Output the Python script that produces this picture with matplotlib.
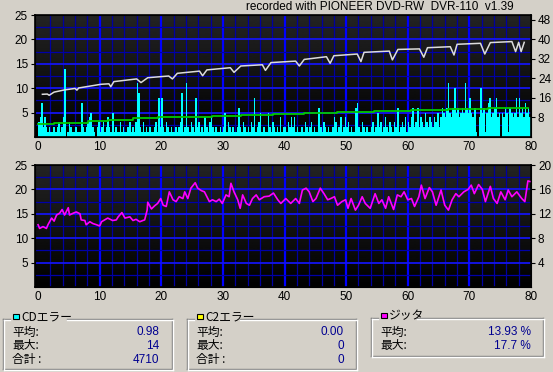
import numpy as np
import matplotlib
matplotlib.use('Agg')
import matplotlib.pyplot as plt
from matplotlib.patches import Rectangle

# ---- data ----
# CD errors per 0.25 min step (0..80 min)
cd_err = [
    3, 4, 7, 2, 4, 2, 1, 2, 1, 1, 2, 1, 2, 3, 1, 2, 4, 14, 0, 1, 3, 2, 1, 1, 2, 1, 1, 1, 7, 2, 1, 2, 3, 4, 5, 2, 1, 0, 2, 3,
    1, 2, 3, 1, 2, 4, 2, 1, 5, 1, 2, 1, 1, 3, 1, 2, 1, 1, 2, 3, 1, 2, 1, 3, 11, 9, 2, 1, 3, 1, 2, 1, 2, 1, 1, 2, 3, 1, 8, 2,
    8, 2, 1, 3, 2, 1, 2, 1, 1, 2, 1, 2, 3, 9, 1, 2, 11, 2, 1, 3, 2, 1, 8, 2, 3, 1, 2, 1, 4, 2, 1, 3, 4, 2, 1, 2, 1, 1, 2, 1,
    2, 5, 1, 3, 2, 1, 2, 1, 1, 2, 6, 2, 1, 3, 2, 1, 2, 1, 3, 2, 8, 1, 2, 3, 5, 1, 2, 1, 1, 5, 2, 1, 3, 2, 1, 2, 1, 4, 1, 2,
    2, 1, 3, 2, 4, 2, 4, 1, 2, 1, 1, 2, 1, 3, 2, 1, 2, 3, 1, 2, 1, 1, 6, 2, 1, 3, 2, 1, 2, 1, 1, 2, 4, 3, 1, 2, 4, 1, 2, 4,
    2, 3, 1, 2, 1, 1, 6, 7, 2, 1, 3, 2, 1, 2, 1, 1, 2, 3, 1, 2, 5, 2, 3, 1, 2, 4, 2, 1, 3, 2, 1, 3, 2, 6, 1, 2, 3, 2, 4, 1,
    3, 2, 4, 6, 2, 3, 6, 2, 4, 3, 2, 5, 3, 2, 4, 3, 2, 4, 3, 5, 2, 4, 6, 5, 4, 6, 11, 5, 4, 6, 10, 5, 6, 4, 5, 6, 5, 11, 6, 5,
    8, 5, 4, 6, 1, 0, 4, 10, 5, 6, 1, 5, 7, 8, 4, 5, 6, 8, 4, 5, 0, 5, 4, 6, 5, 1, 6, 5, 4, 5, 8, 4, 8, 5, 6, 4, 7, 5, 6, 4,
]
cd_step = 0.25

# read speed (right axis, X)
speed_x = [0.7, 1.5, 1.8, 2.6, 4.3, 6.0, 6.3, 6.6, 10.2, 11.5, 11.8, 12.3, 16.0, 16.7, 17.8,
           21.2, 21.8, 22.6, 26.2, 26.7, 27.4, 31.2, 31.8, 32.9, 36.4, 36.9, 37.8, 41.8, 42.4,
           43.2, 46.8, 47.4, 48.0, 51.8, 52.4, 52.9, 57.0, 57.5, 58.4, 61.9, 62.6, 63.2, 66.9,
           67.5, 68.0, 71.8, 72.5, 73.4, 76.9, 77.5, 78.0, 78.4, 78.9]
speed_v = [17.5, 17.6, 17.1, 18.4, 19.3, 19.9, 19.2, 20.1, 21.6, 21.8, 20.6, 22.7, 23.8, 22.3, 24.3,
           25.0, 23.8, 26.1, 27.0, 25.1, 27.5, 28.4, 26.5, 29.1, 29.6, 27.3, 30.5, 31.1, 29.1,
           31.8, 32.9, 30.2, 33.3, 34.0, 30.9, 34.7, 35.2, 31.6, 35.9, 36.1, 32.7, 36.6, 37.0,
           33.6, 38.0, 38.4, 34.0, 38.7, 39.1, 35.0, 38.8, 35.0, 38.8]

# green step line (left axis)
green_x = [0.0, 2.6, 4.9, 8.1, 11.3, 15.4, 19.4, 28.3, 32.9, 38.1, 43.2, 48.5, 54.6, 60.6, 66.5, 73.0, 79.5]
green_v = [2.7, 2.8, 2.9, 3.3, 3.4, 3.8, 4.0, 4.3, 4.5, 4.7, 4.85, 5.05, 5.25, 5.5, 5.7, 5.9, 6.0]

# jitter % (right axis of lower chart)
jit_x = [0.0, 0.25, 0.8, 1.35, 1.6, 2.2, 2.6, 3.0, 3.5, 3.9, 4.3, 4.9, 5.1, 5.7, 6.2, 6.8, 7.0, 7.6,
         7.8, 8.4, 8.9, 9.5, 10.0, 10.3, 10.8, 11.3, 12.1, 12.7, 13.0, 13.6, 14.1, 14.9, 15.4, 15.9,
         16.5, 17.0, 17.3, 17.7, 17.8, 18.4, 18.9, 19.4, 19.9, 20.3, 20.8, 21.3, 21.9, 22.4, 22.9,
         23.5, 23.8, 24.3, 24.8, 25.5, 25.9, 26.5, 27.0, 27.8, 28.3, 28.9, 29.4, 29.9, 30.5, 31.0,
         31.3, 31.8, 32.4, 32.8, 33.2, 33.8, 34.3, 34.8, 35.4, 35.9, 36.7, 37.5, 38.2, 38.9, 39.4,
         40.2, 41.0, 41.8, 42.4, 42.9, 43.5, 44.0, 44.6, 45.1, 45.8, 46.4, 47.0, 47.5, 48.1, 48.6,
         49.3, 49.9, 50.3, 50.8, 51.5, 52.0, 52.6, 53.1, 53.9, 54.7, 55.3, 55.8, 56.4, 56.9, 57.7,
         58.3, 58.9, 59.4, 60.0, 60.6, 61.1, 61.8, 62.2, 62.8, 63.5, 64.0, 64.6, 65.4, 66.0, 66.6,
         67.2, 67.8, 68.3, 69.1, 69.8, 70.3, 70.8, 71.5, 72.1, 72.6, 73.4, 73.9, 74.5, 75.1, 75.8,
         76.3, 76.9, 77.7, 78.5, 79.0, 79.5, 79.8]
jit_v = [10.2, 9.6, 9.9, 9.6, 10.2, 11.3, 10.8, 11.8, 12.1, 12.7, 11.8, 13.0, 11.8, 12.1, 12.3, 12.0,
         11.0, 10.9, 10.2, 10.7, 10.4, 10.2, 10.0, 10.7, 11.0, 11.3, 10.9, 11.0, 11.5, 12.2, 11.3,
         11.5, 10.9, 11.1, 10.7, 10.9, 11.0, 12.6, 13.9, 12.8, 13.3, 13.7, 14.5, 13.4, 13.2, 15.6,
         14.3, 14.0, 14.8, 14.5, 15.6, 14.5, 16.2, 17.1, 16.2, 15.8, 15.6, 14.0, 14.3, 14.0, 14.4,
         13.7, 15.1, 14.8, 17.0, 15.6, 14.3, 12.9, 15.1, 13.7, 13.4, 14.5, 15.1, 14.3, 14.8, 14.9,
         15.4, 14.3, 13.7, 14.5, 13.7, 14.5, 13.7, 15.9, 16.2, 15.6, 14.0, 14.5, 16.2, 15.3, 14.3,
         14.5, 14.8, 13.4, 14.0, 14.3, 12.9, 14.5, 12.6, 13.4, 14.8, 13.7, 12.9, 15.3, 13.7, 14.3,
         12.9, 14.8, 12.7, 15.1, 14.8, 15.6, 14.3, 14.5, 13.2, 14.8, 16.7, 14.5, 16.3, 15.6, 13.4,
         15.9, 13.4, 12.6, 14.3, 15.3, 14.8, 15.6, 16.0, 16.7, 15.3, 16.8, 16.0, 14.0, 16.5, 14.5,
         13.7, 15.6, 14.3, 15.9, 14.8, 15.6, 14.5, 14.0, 17.4, 17.3]

x_ticks = [0, 10, 20, 30, 40, 50, 60, 70, 80]
left_ticks = [5, 10, 15, 20, 25]
speed_ticks = [8, 16, 24, 32, 40, 48]
jitter_ticks = [4, 8, 12, 16, 20]

title = 'recorded with PIONEER DVD-RW  DVR-110  v1.39'
cd_rows = [('平均:', '0.98'), ('最大:', '14'), ('合計 :', '4710')]
c2_rows = [('平均:', '0.00'), ('最大:', '0'), ('合計 :', '0')]
jit_rows = [('平均:', '13.93 %'), ('最大:', '17.7 %')]

# ---- drawing ----
BG = '#d4d0c8'
W, H = 553, 372
LAT = ['Liberation Sans', 'DejaVu Sans']
CJK = ['Noto Sans CJK JP', 'DejaVu Sans']
plt.rcParams['font.family'] = LAT

fig = plt.figure(figsize=(W / 100, H / 100), dpi=100, facecolor=BG)


def px_axes(l, t, r, b):
    return fig.add_axes([l / W, 1 - b / H, (r - l) / W, (b - t) / H])


def style_chart(ax):
    grad = np.linspace(0.14, 0.0, 256).reshape(-1, 1)
    ax.imshow(grad, cmap='gray', vmin=0, vmax=1, aspect='auto',
              extent=[-0.5, 80, 0, 25], zorder=0)
    ax.set_xlim(-0.5, 80)
    ax.set_ylim(0, 25)
    for gx in range(2, 80, 2):
        major = gx % 10 == 0
        ax.axvline(gx, color='#0000ff' if major else '#0000a0',
                   lw=1.6 if major else 0.9, zorder=1)
    for gy in np.arange(2.5, 25, 2.5):
        major = gy % 5 == 0
        ax.axhline(gy, color='#1414f0' if major else '#0000a8',
                   lw=1.3 if major else 0.9, zorder=1)
    ax.set_xticks(x_ticks)
    ax.set_yticks(left_ticks)
    ax.tick_params(axis='x', length=0, pad=3, labelsize=8.5)
    ax.tick_params(axis='y', length=3, width=0.8, pad=2, labelsize=8.5)
    for s in ax.spines.values():
        s.set_color('black')
        s.set_linewidth(1.2)


# top chart: CD errors + speed
ax1 = px_axes(35, 15, 531, 137)
style_chart(ax1)
edges = np.arange(len(cd_err) + 1) * cd_step
ax1.stairs(cd_err, edges, fill=True, color='#00ffff', linewidth=0, zorder=2)
ax1.step(green_x, green_v, where='post', color='#00c800', lw=1.3, zorder=3)
ax1s = ax1.twinx()
ax1s.set_ylim(0, 50)
ax1s.set_yticks(speed_ticks)
ax1s.tick_params(axis='y', length=3, width=0.8, pad=2, labelsize=8.5)
ax1s.plot(speed_x, speed_v, color='#dcdcdc', lw=1.1, zorder=4)

# bottom chart: jitter
ax2 = px_axes(35, 165, 531, 287)
style_chart(ax2)
ax2s = ax2.twinx()
ax2s.set_ylim(0, 20)
ax2s.set_yticks(jitter_ticks)
ax2s.tick_params(axis='y', length=3, width=0.8, pad=2, labelsize=8.5)
ax2s.plot(jit_x, jit_v, color='#ff00ff', lw=1.2, zorder=4)

# overlay in pixel coordinates for title and group boxes
ov = fig.add_axes([0, 0, 1, 1])
ov.set_xlim(0, W)
ov.set_ylim(H, 0)
ov.axis('off')
ov.patch.set_alpha(0)

ov.text(514, 7, title, ha='right', va='center', fontsize=8.5, family=LAT)


def group(x0, y0, x1, y1, gap1, color, label, rows, val_x):
    for d, c in [(0, '#808080'), (1, '#ffffff')]:
        ov.plot([x0 + d, x0 + 7], [y0 + d, y0 + d], color=c, lw=1)
        ov.plot([gap1, x1 + d], [y0 + d, y0 + d], color=c, lw=1)
        ov.plot([x0 + d, x0 + d], [y0 + d, y1 + d], color=c, lw=1)
        ov.plot([x1 + d, x1 + d], [y0 + d, y1 + d], color=c, lw=1)
        ov.plot([x0 + d, x1 + d], [y1 + d, y1 + d], color=c, lw=1)
    ov.add_patch(Rectangle((x0 + 10, y0 - 5.5), 5.5, 5.5, facecolor=color,
                           edgecolor='black', lw=0.8))
    ov.text(x0 + 18, y0 - 2, label, ha='left', va='center', fontsize=8.5, family=CJK)
    for i, (name, val) in enumerate(rows):
        yy = 332 + i * 14
        ov.text(x0 + 9, yy, name, ha='left', va='center', fontsize=8.5, family=CJK)
        ov.text(val_x, yy, val, ha='right', va='center', fontsize=8.5,
                color='#000090', family=LAT)


group(3, 319, 172, 369, 67, '#00ffff', 'CDエラー', cd_rows, 159)
group(187, 319, 356, 369, 240, '#ffff00', 'C2エラー', c2_rows, 344)
group(371, 318, 543, 356, 417, '#ff00ff', 'ジッタ', jit_rows, 531)

fig.savefig('out.png', dpi=100, facecolor=BG)
